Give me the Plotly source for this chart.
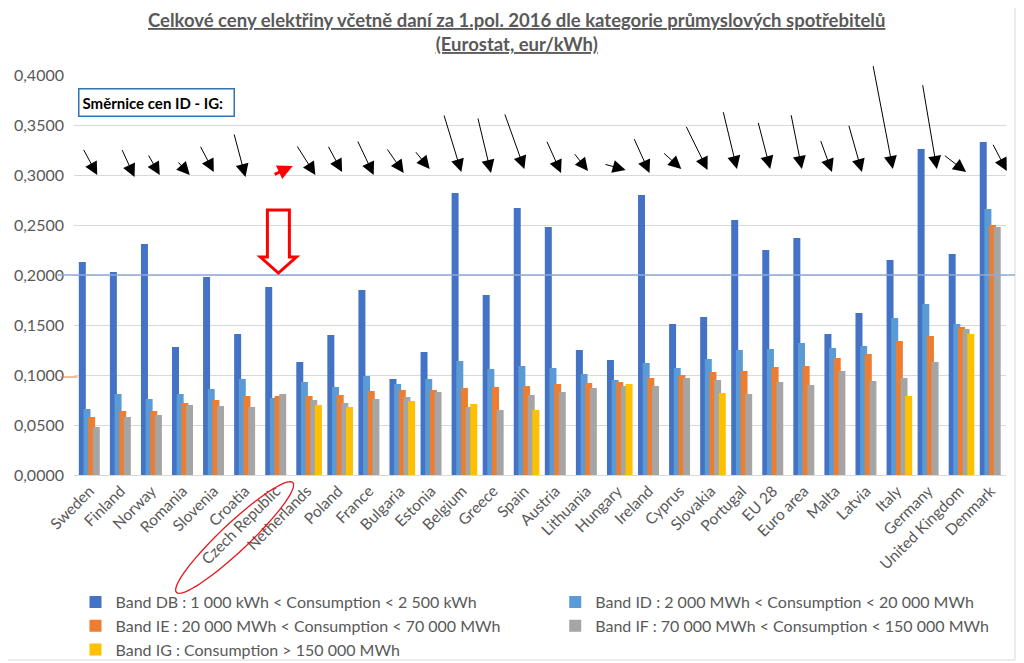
import numpy as np
import plotly.graph_objects as go

categories = ["Sweden", "Finland", "Norway", "Romania", "Slovenia", "Croatia", "Czech Republic",
              "Netherlands", "Poland", "France", "Bulgaria", "Estonia", "Belgium", "Greece", "Spain",
              "Austria", "Lithuania", "Hungary", "Ireland", "Cyprus", "Slovakia", "Portugal", "EU 28",
              "Euro area", "Malta", "Latvia", "Italy", "Germany", "United Kingdom", "Denmark"]

band_db = [0.213, 0.203, 0.231, 0.128, 0.198, 0.141, 0.188, 0.113, 0.140, 0.185, 0.096, 0.123, 0.282, 0.180, 0.267,
           0.248, 0.125, 0.115, 0.280, 0.151, 0.158, 0.255, 0.225, 0.237, 0.141, 0.162, 0.215, 0.326, 0.221, 0.333]
band_id = [0.066, 0.081, 0.076, 0.081, 0.086, 0.096, 0.077, 0.093, 0.088, 0.099, 0.091, 0.096, 0.114, 0.106, 0.109,
           0.107, 0.101, 0.095, 0.112, 0.107, 0.116, 0.125, 0.126, 0.132, 0.127, 0.129, 0.157, 0.171, 0.151, 0.266]
band_ie = [0.058, 0.064, 0.064, 0.072, 0.075, 0.079, 0.079, 0.079, 0.080, 0.084, 0.085, 0.085, 0.087, 0.088, 0.089,
           0.091, 0.092, 0.093, 0.097, 0.100, 0.103, 0.104, 0.108, 0.109, 0.117, 0.121, 0.134, 0.139, 0.148, 0.250]
band_if = [0.048, 0.058, 0.060, 0.070, 0.069, 0.068, 0.081, 0.075, 0.072, 0.076, 0.078, 0.083, 0.068, 0.065, 0.080,
           0.083, 0.087, 0.089, 0.089, 0.097, 0.095, 0.081, 0.093, 0.090, 0.104, 0.094, 0.097, 0.113, 0.146, 0.248]
band_ig = [None, None, None, None, None, None, None, 0.070, 0.068, None, 0.074, None, 0.071, None, 0.065,
           None, None, 0.091, None, None, 0.082, None, None, None, None, None, 0.079, None, 0.141, None]

series_names = ["Band DB : 1 000 kWh < Consumption < 2 500 kWh",
                "Band ID : 2 000 MWh < Consumption < 20 000 MWh",
                "Band IE : 20 000 MWh < Consumption < 70 000 MWh",
                "Band IF : 70 000 MWh < Consumption < 150 000 MWh",
                "Band IG : Consumption > 150 000 MWh"]
series_values = [band_db, band_id, band_ie, band_if, band_ig]
series_colors = ["#4472C4", "#5B9BD5", "#ED7D31", "#A5A5A5", "#FFC000"]
series_legend = ["legend", "legend2", "legend", "legend2", "legend"]

# hand-drawn arrows: (head x shift px from category centre, head y value, tail dx px, tail dy px)
arrows = [(7.7, 0.300, -14.4, -26.7), (13.9, 0.298, -13, -28.4), (8.1, 0.300, -12, -21), (7, 0.300, -12.6, -14),
          (0, 0.303, -14, -26.7), (0.6, 0.298, -11.7, -44), (16.8, 0.309, -19.6, 9), (8.4, 0.300, -19, -30),
          (4, 0.303, -14.4, -26.7), (4.6, 0.300, -16.6, -35), (3.5, 0.302, -17.3, -25), (-1.6, 0.306, -15, -18.3),
          (-1, 0.303, -17.7, -58), (-2.4, 0.302, -13.4, -56), (-0.1, 0.306, -20, -56), (5.5, 0.302, -14.7, -32.7),
          (1.4, 0.304, -14.4, -18.3), (7.9, 0.305, -21.6, -6), (0.8, 0.302, -16, -35.4), (1.5, 0.306, -18.7, -17),
          (-3.3, 0.305, -22, -44.7), (-5, 0.306, -14, -58.3), (-2.8, 0.306, -12.3, -47.6), (-2.2, 0.306, -11, -55.3),
          (-3.2, 0.303, -11.7, -32.4), (-4.3, 0.303, -13.4, -47.7), (-4.4, 0.306, -20, -104.3), (8.5, 0.306, -14.4, -85.3),
          (6.7, 0.303, -22.7, -17.4), (16.3, 0.304, -14.4, -27.7)]
highlight = "Czech Republic"

# the page body adds an 8 px offset; the figure is sized to fill the rest of the window
OFF = 8
W, H = 1024 - OFF, 663 - OFF
SL, SR, ST, SB = 73.5, 1006.0, 75.0, 475.0          # plot area in window pixels
ML, MT = SL - OFF, ST - OFF
MR, MB = W - (SR - OFF), H - (SB - OFF)
FONT = "Lato, 'Open Sans', sans-serif"
GREY = "#595959"


def pxx(px):
    return (px - SL) / (SR - SL)


def pxy(py):
    return (SB - py) / (SB - ST)


fig = go.Figure()
for k, (name, vals, col, lg) in enumerate(zip(series_names, series_values, series_colors, series_legend)):
    fig.add_trace(go.Bar(x=categories, y=vals, name=name, marker_color=col, marker_line_width=0,
                         width=0.225, offset=-0.345 + 0.15 * k, legend=lg))

annotations = []
for cat, (dx, hy, ax, ay) in zip(categories, arrows):
    red = cat == highlight
    annotations.append(dict(x=cat, y=hy, xref="x", yref="y", xshift=dx, text="", showarrow=True,
                            ax=ax, ay=ay, axref="pixel", ayref="pixel",
                            arrowhead=2, arrowsize=1.0 if red else 2.6, arrowwidth=3 if red else 1,
                            arrowcolor="#FF0000" if red else "#000000", standoff=0))

annotations.append(dict(x=pxx(77.5), y=pxy(87.5), xref="paper", yref="paper", xanchor="left", yanchor="top",
                        text="<b>Směrnice cen ID - IG:</b>", showarrow=False, align="left",
                        font=dict(family=FONT, size=15, color="#000000"),
                        bordercolor="#2E75B6", borderwidth=1.5, borderpad=3, bgcolor="#FFFFFF",
                        width=148, height=20))

annotations.append(dict(x=pxx(516.5), y=pxy(7), xref="paper", yref="paper", xanchor="center", yanchor="top",
                        text="<b><u>Celkové ceny elektřiny včetně daní za 1.pol. 2016 dle kategorie průmyslových spotřebitelů</u></b>"
                             "<br><b><u>(Eurostat, eur/kWh)</u></b>",
                        showarrow=False, align="center", font=dict(family=FONT, size=18.5, color=GREY)))

shapes = []
shapes.append(dict(type="rect", xref="paper", yref="paper", x0=pxx(-5), x1=pxx(1015), y0=pxy(-5), y1=pxy(660),
                   line=dict(color="#D9D9D9", width=1), layer="below"))
shapes.append(dict(type="line", xref="paper", yref="y", x0=pxx(57), x1=pxx(1015), y0=0.2, y1=0.2,
                   line=dict(color="#8FAADC", width=1.5)))
shapes.append(dict(type="line", xref="paper", yref="y", x0=pxx(60), x1=pxx(77), y0=0.098, y1=0.098,
                   line=dict(color="#ED7D31", width=1)))
pts = [(267, 210), (289, 210), (289, 257), (296, 257), (278, 273), (260, 257), (267, 257)]
path = "M " + " L ".join(f"{pxx(a):.5f},{pxy(b):.5f}" for a, b in pts) + " Z"
shapes.append(dict(type="path", xref="paper", yref="paper", path=path, line=dict(color="#FF0000", width=3)))
cx, cy, ra, rb, ang = 234.2, 537.5, 80, 14, np.deg2rad(-43.3)
t = np.linspace(0, 2 * np.pi, 73)
ex = cx + ra * np.cos(t) * np.cos(ang) - rb * np.sin(t) * np.sin(ang)
ey = cy + ra * np.cos(t) * np.sin(ang) + rb * np.sin(t) * np.cos(ang)
epath = "M " + " L ".join(f"{pxx(a):.5f},{pxy(b):.5f}" for a, b in zip(ex, ey)) + " Z"
shapes.append(dict(type="path", xref="paper", yref="paper", path=epath, line=dict(color="#E8141B", width=1.3)))

legend_style = dict(orientation="v", xanchor="left", yanchor="top", y=pxy(585), bgcolor="rgba(0,0,0,0)",
                    font=dict(family=FONT, size=16, color=GREY), traceorder="normal", itemclick=False,
                    tracegroupgap=0)

fig.update_layout(
    width=W, height=H, margin=dict(l=ML, r=MR, t=MT, b=MB, autoexpand=False),
    paper_bgcolor="#FFFFFF", plot_bgcolor="#FFFFFF",
    barmode="overlay", separators=", ",
    font=dict(family=FONT, color=GREY, size=15),
    xaxis=dict(type="category", tickangle=-45, showgrid=False, showline=True, linecolor="#D9D9D9",
               ticks="", tickfont=dict(family=FONT, size=15.5, color=GREY), range=[-0.5, 29.5]),
    yaxis=dict(range=[0, 0.4], dtick=0.05, tickformat=".4f", showgrid=True, gridcolor="#D9D9D9",
               zeroline=False, showline=False, ticks="", ticklabelstandoff=9,
               tickfont=dict(family=FONT, size=16, color=GREY)),
    legend=dict(x=pxx(75), **legend_style),
    legend2=dict(x=pxx(555), **legend_style),
    annotations=annotations, shapes=shapes, showlegend=True,
)

fig.write_html("out.html")
